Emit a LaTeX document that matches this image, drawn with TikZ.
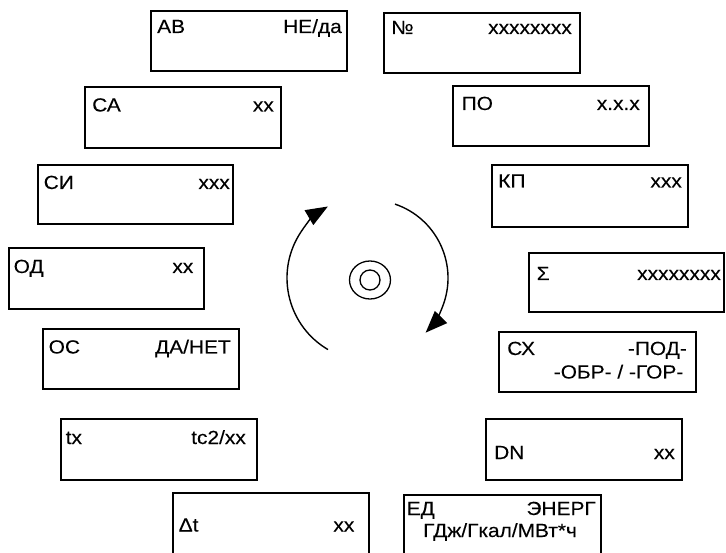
\documentclass[tikz,border=0pt]{standalone}
\usepackage{fontspec}
\setmainfont{Liberation Sans}[FakeStretch=1.1,FakeBold=0.15]
\usetikzlibrary{arrows.meta,shapes.geometric,calc}
\begin{document}
\begin{tikzpicture}[x=1pt,y=-1pt,
  box/.style={draw,line width=1.5pt,minimum width=196pt,minimum height=60pt,inner sep=0pt,outer sep=0pt},
  lbl/.style={inner sep=0pt,font=\fontsize{19}{23}\selectfont},
  lw/.style={lbl,anchor=base west},
  le/.style={lbl,anchor=base east},
  rot/.style={line width=1.4pt,-{Triangle[length=22pt,width=17pt]}}]
\useasboundingbox (0,0) rectangle (726,553);
% boxes
\node[box] (ab) at (249,41) {};
\node[box] (no) at (482,43) {};
\node[box,minimum height=61pt] (ca) at (183,117.5) {};
\node[box] (po) at (551,116) {};
\node[box,minimum width=195pt,minimum height=59pt] (si) at (135.5,194.5) {};
\node[box,minimum height=62pt] (kp) at (590,196) {};
\node[box,minimum width=195pt,minimum height=61pt] (od) at (106.5,278.5) {};
\node[box,minimum width=195pt,minimum height=59pt] (sg) at (626.5,282.5) {};
\node[box] (os) at (141,359) {};
\node[box,minimum width=197pt] (sx) at (597.5,362) {};
\node[box,minimum height=61pt] (tx) at (159,449.5) {};
\node[box,minimum height=61pt] (dn) at (584,449.5) {};
\node[box,minimum height=62pt] (dt) at (271,524) {};
\node[box,minimum width=197pt] (ed) at (502.5,525) {};
% labels
\node[lw] (abl) at (157,33) {АВ};
\node[le] (abr) at (342,33) {НЕ/да};
\node[lw] (nol) at (391,34) {№};
\node[le] (nor) at (572,34) {xxxxxxxx};
\node[lw] (cal) at (92,111.5) {СА};
\node[le] (car) at (274,111.5) {xx};
\node[lw] (pol) at (461.5,110) {ПО};
\node[le] (por) at (640,110) {x.x.x};
\node[lw] (sil) at (43.5,189) {СИ};
\node[le] (sir) at (230,189) {xxx};
\node[lw] (kpl) at (498,187.5) {КП};
\node[le] (kpr) at (682,187.5) {xxx};
\node[lw] (odl) at (13.5,273) {ОД};
\node[le] (odr) at (193.5,273) {xx};
\node[lw] (sgl) at (536.5,280) {Σ};
\node[le] (sgr) at (721,280) {xxxxxxxx};
\node[lw] (osl) at (48.5,353.5) {ОС};
\node[le] (osr) at (231,353.5) {ДА/НЕТ};
\node[lw] (sxl) at (507,355) {СХ};
\node[le] (sxr) at (687,355) {-ПОД-};
\node[le] (sxr2) at (683.5,378.5) {-ОБР- / -ГОР-};
\node[lw] (txl) at (65.5,444) {tx};
\node[le] (txr) at (246,444) {tc2/xx};
\node[lw] (dnl) at (494,459) {DN};
\node[le] (dnr) at (675,459) {xx};
\node[lw] (dtl) at (178.5,531.5) {Δt};
\node[le] (dtr) at (354.5,531.5) {xx};
\node[lw] (edl) at (406.5,515) {ЕД};
\node[le] (edr) at (596,515) {ЭНЕРГ};
\node[lw] (edl2) at (423,537) {ГДж/Гкал/МВт*ч};
% centre symbol
\coordinate (c) at (370,278);
\node[draw,line width=1.3pt,ellipse,minimum width=41pt,minimum height=38pt,inner sep=0pt] (outer) at (370,280) {};
\node[draw,line width=1.3pt,circle,minimum size=20pt,inner sep=0pt] (inner) at (370,280) {};
% rotation arrows
\draw[rot] ($(c)+(120.4:83)$) arc[start angle=120.4,end angle=239.5,radius=83];
\draw[rot] ($(c)+(-71.3:78)$) arc[start angle=-71.3,end angle=44.5,radius=78];
\end{tikzpicture}
\end{document}
